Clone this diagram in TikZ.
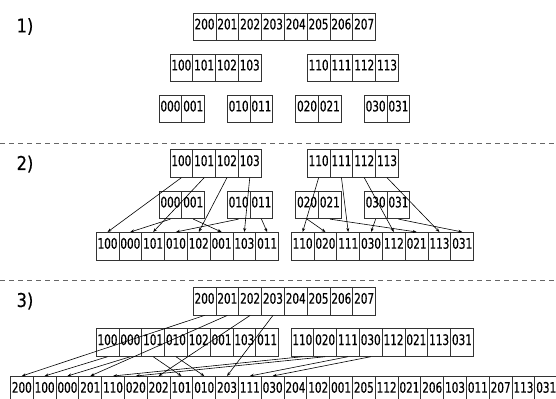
\documentclass[tikz,border=0pt]{standalone}
\usepackage{fontspec}
\setmainfont{DejaVu Sans}
\newfontfamily\cellfont{DejaVu Sans}[FakeStretch=0.72,FakeBold=0.4]
\newfontfamily\labfont{DejaVu Sans}[FakeStretch=0.86,FakeBold=0.4]
\usetikzlibrary{arrows.meta}
\tikzset{
 cell/.style={draw=black!80, line width=0.9bp, minimum width=22.8bp, minimum height=27.5bp,
   inner sep=0pt, anchor=north west, font=\cellfont\fontsize{14.5bp}{16bp}\selectfont,
   text height=10.6bp, text depth=5.6bp},
 arr/.style={line width=0.6bp, -{Stealth[length=4bp,width=3bp]}},
 sepline/.style={dash pattern=on 5bp off 4bp, line width=0.9bp, black!60},
 lab/.style={font=\labfont\fontsize{19bp}{21bp}\selectfont}
}
\newcommand\cellrow[4]{\foreach \t [count=\i from 0] in {#4}{\node[cell] (#1-\t) at ({#2+\i*22.8},{#3}) {\t};}}
\begin{document}
\begin{tikzpicture}[x=1bp,y=-1bp]
\useasboundingbox (0,0) rectangle (556,398);
\clip (0,0) rectangle (556,398);
% labels
\node[lab] (l1) at (25,26.5) {1)};
\node[lab] (l2) at (25,164) {2)};
\node[lab] (l3) at (25,301) {3)};
% separators
\coordinate (d1a) at (0,143); \coordinate (d1b) at (556,143);
\coordinate (d2a) at (0,280); \coordinate (d2b) at (556,280);
\draw[sepline] (d1a) -- (d1b);
\draw[sepline] (d2a) -- (d2b);
% section 1
\cellrow{s1a}{192.7}{12.7}{200,201,202,203,204,205,206,207}
\cellrow{s1b}{169.5}{53.7}{100,101,102,103}
\cellrow{s1c}{306.8}{53.7}{110,111,112,113}
\cellrow{s1d}{158.6}{94.7}{000,001}
\cellrow{s1e}{226.8}{94.7}{010,011}
\cellrow{s1f}{295.2}{94.7}{020,021}
\cellrow{s1g}{363.8}{94.7}{030,031}
% section 2
\cellrow{s2a}{169.5}{149.3}{100,101,102,103}
\cellrow{s2c}{306.8}{149.3}{110,111,112,113}
\cellrow{s2d}{158.6}{190.7}{000,001}
\cellrow{s2e}{226.8}{190.7}{010,011}
\cellrow{s2f}{295.2}{190.7}{020,021}
\cellrow{s2g}{363.8}{190.7}{030,031}
\cellrow{s2L}{95.7}{232}{100,000,101,010,102,001,103,011}
\cellrow{s2R}{290.8}{232}{110,020,111,030,112,021,113,031}
\foreach \v in {100,101,102,103}{\draw[arr] (s2a-\v.south) -- (s2L-\v.north);}
\foreach \v in {000,001}{\draw[arr] (s2d-\v.south) -- (s2L-\v.north);}
\foreach \v in {010,011}{\draw[arr] (s2e-\v.south) -- (s2L-\v.north);}
\foreach \v in {110,111,112,113}{\draw[arr] (s2c-\v.south) -- (s2R-\v.north);}
\foreach \v in {020,021}{\draw[arr] (s2f-\v.south) -- (s2R-\v.north);}
\foreach \v in {030,031}{\draw[arr] (s2g-\v.south) -- (s2R-\v.north);}
% section 3
\cellrow{s3a}{192.7}{287}{200,201,202,203,204,205,206,207}
\cellrow{s3L}{95.7}{328.3}{100,000,101,010,102,001,103,011}
\cellrow{s3R}{290.5}{328.3}{110,020,111,030,112,021,113,031}
\cellrow{s3b}{10}{376}{200,100,000,201,110,020,202,101,010,203,111,030,204,102,001,205,112,021,206,103,011,207,113,031}
\foreach \v in {200,201,202,203}{\draw[arr] (s3a-\v.south) -- (s3b-\v.north);}
\foreach \v in {100,000,101,010}{\draw[arr] (s3L-\v.south) -- (s3b-\v.north);}
\foreach \v in {110,020,111,030}{\draw[arr] (s3R-\v.south) -- (s3b-\v.north);}
\end{tikzpicture}
\end{document}
